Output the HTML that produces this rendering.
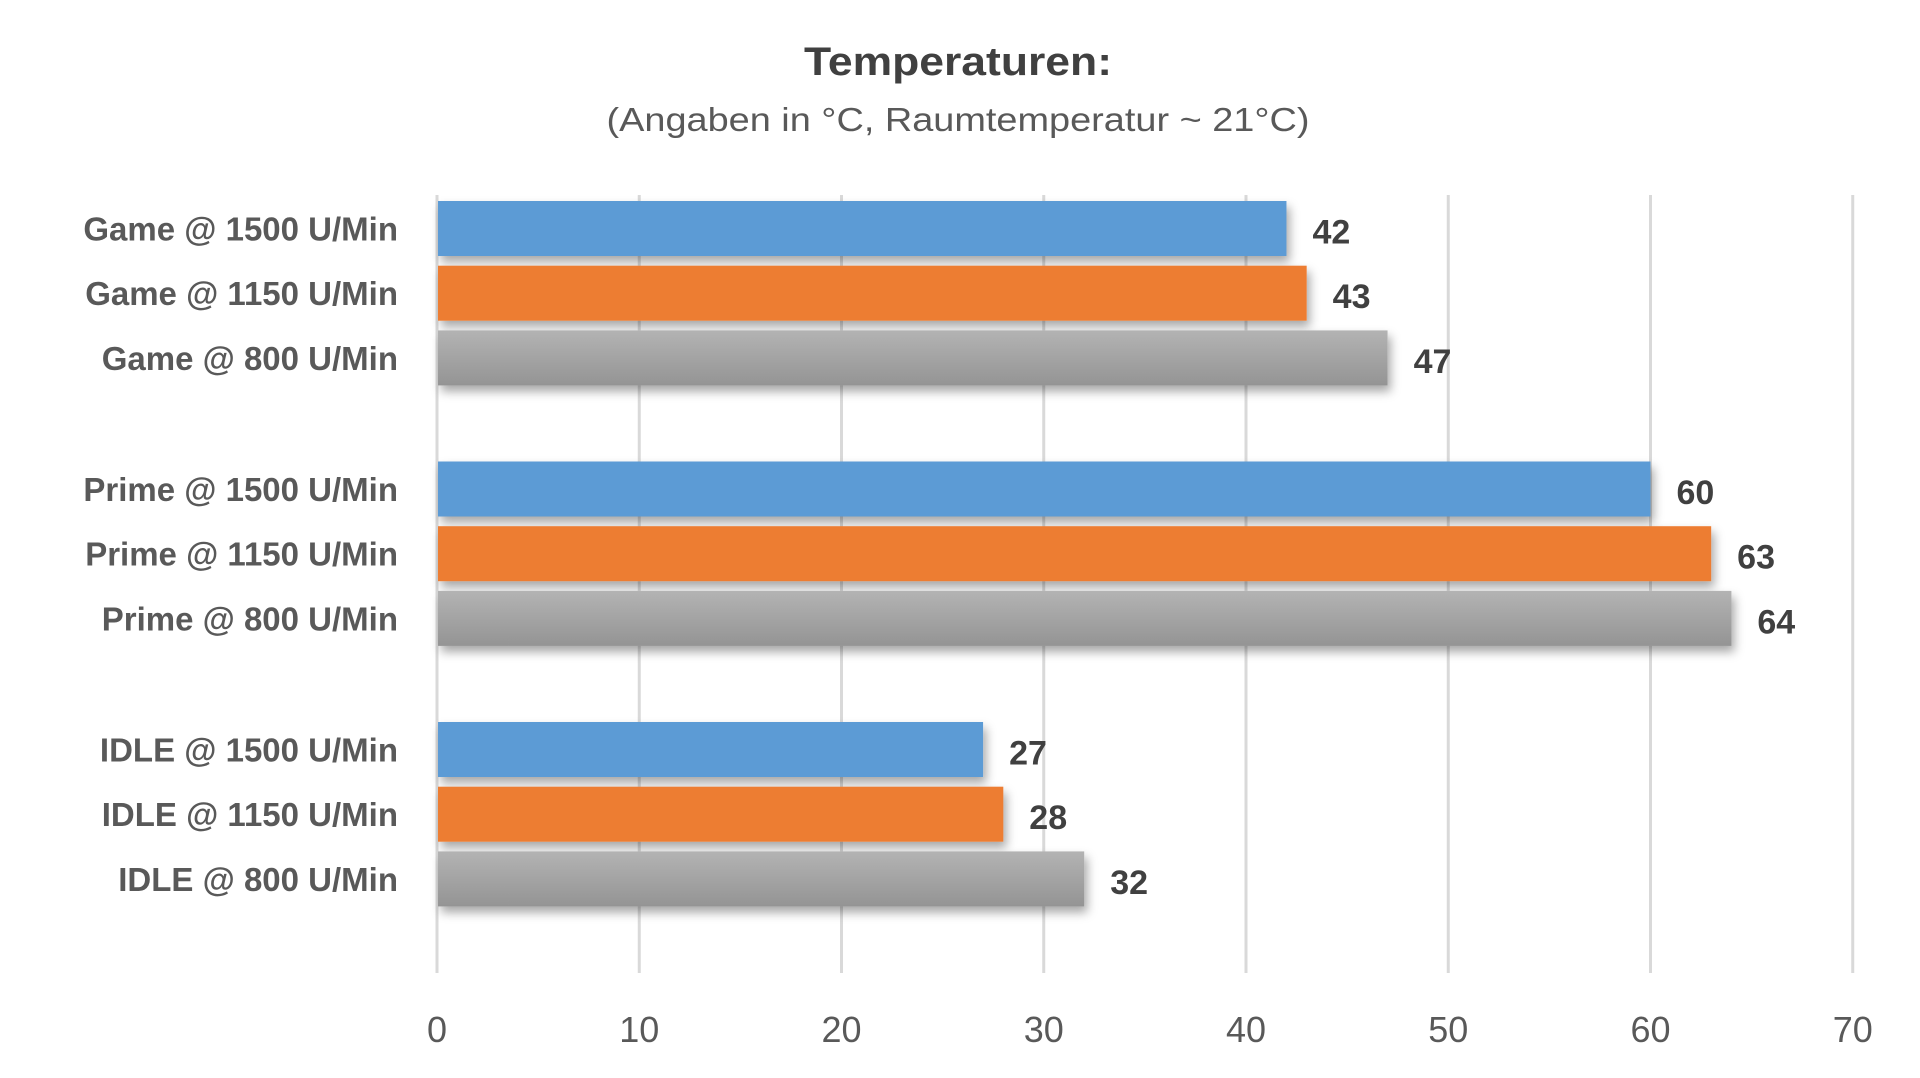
<!DOCTYPE html>
<html><head><meta charset="utf-8"><style>
html,body{margin:0;padding:0;background:#fff;}
svg{display:block;font-family:"Liberation Sans",sans-serif;}
</style></head><body>
<svg id="chart" width="1920" height="1078" viewBox="0 0 1920 1078">
<defs>
<linearGradient id="gray" x1="0" y1="0" x2="0" y2="1"><stop offset="0" stop-color="#b3b3b3"/><stop offset="1" stop-color="#949494"/></linearGradient>
<filter id="sh" x="-5%" y="-30%" width="110%" height="180%"><feDropShadow dx="3" dy="6" stdDeviation="5" flood-color="#000" flood-opacity="0.35"/></filter>
</defs>
<text x="958" y="75" text-anchor="middle" font-size="40" font-weight="bold" fill="#404040" textLength="308" lengthAdjust="spacingAndGlyphs">Temperaturen:</text>
<text x="958" y="131" text-anchor="middle" font-size="33" fill="#595959" textLength="703" lengthAdjust="spacingAndGlyphs">(Angaben in °C, Raumtemperatur ~ 21°C)</text>
<g id="grid"></g><g id="bars"></g><g id="labels"></g>
</svg>
<script>
const categories = ["Game @ 1500 U/Min","Game @ 1150 U/Min","Game @ 800 U/Min","Prime @ 1500 U/Min","Prime @ 1150 U/Min","Prime @ 800 U/Min","IDLE @ 1500 U/Min","IDLE @ 1150 U/Min","IDLE @ 800 U/Min"];
const values = [42,43,47,60,63,64,27,28,32];
const seriesIndex = [0,1,2,0,1,2,0,1,2];
const groupIndex = [0,0,0,1,1,1,2,2,2];
const ticks = [0,10,20,30,40,50,60,70];
const NS="http://www.w3.org/2000/svg";
const x0=437, pxPer=20.225, gTop=195, gBot=973;
const xs=v=>x0+v*pxPer;
const yc=i=>228.5+groupIndex[i]*260.5+seriesIndex[i]*64.7;
const fills=["#5b9bd5","#ed7d31","url(#gray)"];
const names=["rpm-1500","rpm-1150","rpm-800"];
function mk(t,a,p){const e=document.createElementNS(NS,t);for(const k in a)e.setAttribute(k,a[k]);p.appendChild(e);return e;}
const grid=document.getElementById('grid'),bars=document.getElementById('bars'),labels=document.getElementById('labels');
ticks.forEach(t=>{
 const l=mk('line',{x1:xs(t),x2:xs(t),y1:gTop,y2:gBot,stroke:'#d9d9d9','stroke-width':3},grid);
 
 
 const tx=mk('text',{x:xs(t),y:1042,'text-anchor':'middle','font-size':36,fill:'#595959'},grid);
 tx.textContent=t;
 
 
});
categories.forEach((c,i)=>{
 const y=yc(i);
 const r=mk('rect',{x:x0+1,y:y-27.5,width:xs(values[i])-x0-1,height:55,fill:fills[seriesIndex[i]],filter:'url(#sh)'},bars);
 
 
 const cl=mk('text',{x:398,y:y+12,'text-anchor':'end','font-size':33,'font-weight':'bold',fill:'#595959'},labels);
 cl.textContent=c;
 
 
 const vl=mk('text',{x:xs(values[i])+26,y:y+15,'font-size':34,'font-weight':'bold',fill:'#404040'},labels);
 vl.textContent=values[i];
 
 
});
</script>
</body></html>
